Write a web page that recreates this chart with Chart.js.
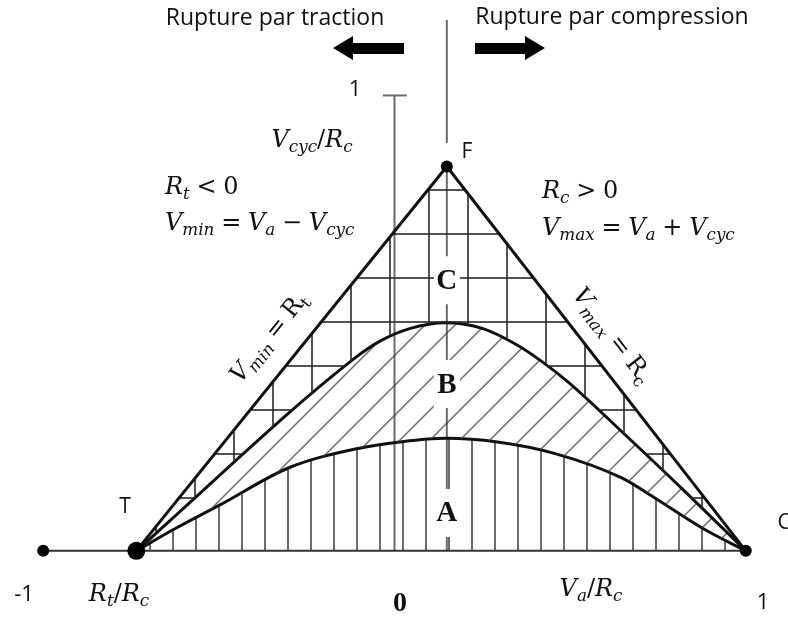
<!DOCTYPE html>
<html>
<head>
<meta charset="utf-8">
<script src="https://cdn.jsdelivr.net/npm/chart.js@4.4.1/dist/chart.umd.min.js"></script>
<style>
  html, body { margin: 0; padding: 0; background: #fff; }
  canvas { display: block; }
</style>
</head>
<body>
<canvas id="chart" width="788" height="622"></canvas>
<script>
// ========== DATA (x = Va/Rc, y = Vcyc/Rc) ========== //
const triangleX = [-0.735, 0.149, 1.0];
const triangleY = [0, 0.844, 0];

// upper boundary of zone B
const curveBX = [-0.735, -0.115, -0.040, 0.043, 0.146, 0.252, 0.349, 0.419, 0.497, 0.655, 0.822, 1.0];
const curveBY = [0, 0.422, 0.461, 0.488, 0.501, 0.488, 0.452, 0.416, 0.369, 0.256, 0.134, 0];

// upper boundary of zone A
const curveAX = [-0.735, -0.624, -0.494, -0.299, -0.096, 0.015, 0.146, 0.293, 0.460, 0.647, 0.739, 0.878, 1.0];
const curveAY = [0, 0.049, 0.102, 0.183, 0.226, 0.239, 0.247, 0.239, 0.213, 0.160, 0.117, 0.049, 0];

// marked points: -1, T, F, C
const keyX = [-1, -0.735, 0.149, 1];
const keyY = [0, 0, 0.844, 0];
const keyRadius = [6, 9, 6, 6];

const zoneNames = ["A", "B", "C"];
const zoneY = [0.092, 0.375, 0.603];

const zip = (xs, ys) => xs.map((x, i) => ({ x, y: ys[i] }));

// ========== HATCH PATTERNS ========== //
function makePattern(w, h, draw) {
  const c = document.createElement("canvas");
  c.width = w; c.height = h;
  const g = c.getContext("2d");
  draw(g);
  return document.getElementById("chart").getContext("2d").createPattern(c, "repeat");
}

const verticalHatch = makePattern(23, 4, g => {
  g.fillStyle = "rgba(70,70,70,0.8)";
  g.fillRect(11, 0, 2, 4);
});

const diagonalHatch = makePattern(30, 30, g => {
  g.strokeStyle = "rgba(60,60,60,0.75)";
  g.lineWidth = 1.5;
  g.beginPath();
  g.moveTo(-2, 32); g.lineTo(32, -2);
  g.moveTo(-2, 2); g.lineTo(2, -2);
  g.moveTo(28, 32); g.lineTo(32, 28);
  g.stroke();
});

const gridHatch = makePattern(39, 44, g => {
  g.fillStyle = "rgba(40,40,40,0.8)";
  g.fillRect(0, 0, 1, 44);
  g.fillRect(38, 0, 1, 44);
  g.fillRect(0, 13, 39, 2);
});

// ========== TEXT HELPERS ========== //
const MATH = '"DejaVu Serif"';
function mathFont(kind, size) {
  if (kind === "s") return `italic ${size * 0.7}px ${MATH}`;
  if (kind === "sn") return `${size * 0.7}px ${MATH}`;
  if (kind === "v") return `italic ${size}px ${MATH}`;
  return `${size}px ${MATH}`;
}
function partWidth(ctx, p, size) {
  ctx.font = mathFont(p[1], size);
  const w = ctx.measureText(p[0]).width;
  return p[1] === "o" ? w + size * 0.56 : w;
}
function drawMath(ctx, parts, x, y, size, align) {
  let total = 0;
  parts.forEach(p => total += partWidth(ctx, p, size));
  let cx = align === "center" ? x - total / 2 : x;
  ctx.fillStyle = "#111";
  ctx.textAlign = "left";
  ctx.textBaseline = "alphabetic";
  parts.forEach(p => {
    const w = partWidth(ctx, p, size);
    ctx.font = mathFont(p[1], size);
    const sub = p[1] === "s" || p[1] === "sn";
    const dx = p[1] === "o" ? size * 0.28 : 0;
    ctx.fillText(p[0], cx + dx, sub ? y + size * 0.22 : y);
    cx += w;
  });
}
function sans(ctx, text, x, y, size) {
  ctx.font = `${size}px "Open Sans"`;
  ctx.fillStyle = "#111";
  ctx.textAlign = "center";
  ctx.textBaseline = "middle";
  ctx.fillText(text, x, y);
}
function arrow(ctx, tipX, baseX, endX, y) {
  ctx.fillStyle = "#000";
  ctx.beginPath();
  ctx.moveTo(tipX, y);
  ctx.lineTo(baseX, y - 12);
  ctx.lineTo(baseX, y - 5);
  ctx.lineTo(endX, y - 5);
  ctx.lineTo(endX, y + 6);
  ctx.lineTo(baseX, y + 6);
  ctx.lineTo(baseX, y + 12);
  ctx.closePath();
  ctx.fill();
}

const labelPlugin = {
  id: "labels",
  afterDatasetsDraw(chart) {
    const ctx = chart.ctx;
    const xs = chart.scales.x, ys = chart.scales.y;
    const fx = xs.getPixelForValue(triangleX[1]);

    // zone letters, cutting the vertical line through F
    zoneNames.forEach((n, i) => {
      const py = ys.getPixelForValue(zoneY[i]);
      ctx.fillStyle = "#fff";
      ctx.fillRect(fx - 13, py - 20, 26, 48);
      ctx.font = 'bold 29px "Liberation Serif"';
      ctx.fillStyle = "#111";
      ctx.textAlign = "center";
      ctx.textBaseline = "middle";
      ctx.fillText(n, fx, py + 5);
    });

    // top captions and arrows
    sans(ctx, "Rupture par traction", 275, 18, 23);
    sans(ctx, "Rupture par compression", 612, 17, 23);
    arrow(ctx, 333, 353, 404, 48);
    arrow(ctx, 545, 525, 475, 48);

    // point names and axis numbers
    sans(ctx, "T", 125, 507, 21);
    sans(ctx, "F", 467, 152, 21);
    sans(ctx, "C", 784, 523, 21);
    sans(ctx, "-1", 24, 595, 22);
    sans(ctx, "1", 763, 603, 22);
    sans(ctx, "1", 355, 90, 22);
    ctx.font = 'bold 28px "Liberation Serif"';
    ctx.fillStyle = "#111";
    ctx.textAlign = "center";
    ctx.textBaseline = "middle";
    ctx.fillText("0", 400, 604);

    // math labels
    drawMath(ctx, [["R", "v"], ["t", "s"], ["/", "n"], ["R", "v"], ["c", "s"]], 119, 601, 24, "center");
    drawMath(ctx, [["V", "v"], ["a", "s"], ["/", "n"], ["R", "v"], ["c", "s"]], 591, 596, 24, "center");
    drawMath(ctx, [["V", "v"], ["cyc", "s"], ["/", "n"], ["R", "v"], ["c", "s"]], 312, 147, 24, "center");
    drawMath(ctx, [["R", "v"], ["t", "s"], ["<", "o"], ["0", "n"]], 165, 194, 24, "left");
    drawMath(ctx, [["V", "v"], ["min", "s"], ["=", "o"], ["V", "v"], ["a", "s"], ["\u2212", "o"], ["V", "v"], ["cyc", "s"]], 165, 230, 24, "left");
    drawMath(ctx, [["R", "v"], ["c", "s"], [">", "o"], ["0", "n"]], 542, 198, 24, "left");
    drawMath(ctx, [["V", "v"], ["max", "s"], ["=", "o"], ["V", "v"], ["a", "s"], ["+", "o"], ["V", "v"], ["cyc", "s"]], 542, 235, 24, "left");

    // labels along the triangle edges
    ctx.save();
    ctx.translate(268, 337);
    ctx.rotate(-51.2 * Math.PI / 180);
    drawMath(ctx, [["V", "v"], ["min", "s"], ["=", "o"], ["R", "n"], ["t", "sn"]], 0, 8, 24, "center");
    ctx.restore();
    ctx.save();
    ctx.translate(613, 335);
    ctx.rotate(52.2 * Math.PI / 180);
    drawMath(ctx, [["V", "v"], ["max", "s"], ["=", "o"], ["R", "n"], ["c", "sn"]], 0, 8, 24, "center");
    ctx.restore();
  }
};

// ========== CHART ========== //
const ink = "#111";
const thin = "rgba(90,90,90,0.9)";

new Chart(document.getElementById("chart"), {
  type: "scatter",
  data: {
    datasets: [
      { // 0: marked points
        data: zip(keyX, keyY),
        pointRadius: keyRadius,
        pointBackgroundColor: "#000",
        pointBorderWidth: 0,
        showLine: false
      },
      { // 1: triangle T-F-C, zone C between it and curve B
        data: zip(triangleX, triangleY),
        showLine: true, borderColor: ink, borderWidth: 3, pointRadius: 0,
        fill: { target: 2 }, backgroundColor: gridHatch
      },
      { // 2: curve B, zone B down to curve A
        data: zip(curveBX, curveBY),
        showLine: true, borderColor: ink, borderWidth: 3, pointRadius: 0,
        cubicInterpolationMode: "monotone",
        fill: { target: 3 }, backgroundColor: diagonalHatch
      },
      { // 3: curve A, zone A down to the axis
        data: zip(curveAX, curveAY),
        showLine: true, borderColor: ink, borderWidth: 3, pointRadius: 0,
        cubicInterpolationMode: "monotone",
        fill: "origin", backgroundColor: verticalHatch
      },
      { // 4: horizontal axis
        data: [{ x: -1, y: 0 }, { x: 1, y: 0 }],
        showLine: true, borderColor: "#333", borderWidth: 2, pointRadius: 0, fill: false
      },
      { // 5: vertical axis
        data: [{ x: 0, y: 0 }, { x: 0, y: 1 }],
        showLine: true, borderColor: thin, borderWidth: 2, pointRadius: 0, fill: false
      },
      { // 6: tick at 1
        data: [{ x: -0.033, y: 1 }, { x: 0.035, y: 1 }],
        showLine: true, borderColor: thin, borderWidth: 2, pointRadius: 0, fill: false
      },
      { // 7: vertical through F
        data: [{ x: triangleX[1], y: 0 }, { x: triangleX[1], y: triangleY[1] }],
        showLine: true, borderColor: thin, borderWidth: 2, pointRadius: 0, fill: false
      },
      { // 8: separator traction / compression
        data: [{ x: triangleX[1], y: 0.896 }, { x: triangleX[1], y: 1.166 }],
        showLine: true, borderColor: thin, borderWidth: 2, pointRadius: 0, fill: false
      }
    ]
  },
  options: {
    responsive: false,
    animation: false,
    layout: { padding: 0 },
    plugins: {
      legend: { display: false },
      tooltip: { enabled: false },
      filler: { propagate: false }
    },
    scales: {
      x: { type: "linear", display: false, min: -1.0974, max: 1.0946 },
      y: { type: "linear", display: false, min: -0.1365, max: 1.1898 }
    }
  },
  plugins: [labelPlugin]
});
</script>
</body>
</html>
